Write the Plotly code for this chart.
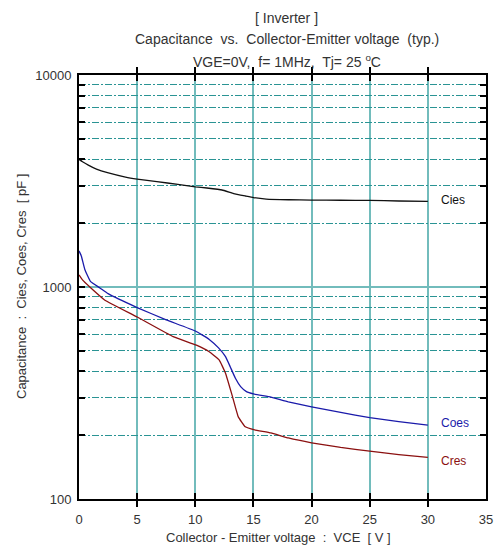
import math
import plotly.graph_objects as go

# ---- data ----
cies_x = [0, 0.3, 0.8, 1.5, 2.45, 4, 5, 6.7, 8.5, 10, 11, 12.3, 13.3, 14.3, 15, 16.1, 18, 20, 22.5, 25, 27.5, 30]
cies_y = [4000, 3900, 3760, 3600, 3460, 3300, 3230, 3140, 3050, 2970, 2930, 2868, 2760, 2687, 2640, 2600, 2580, 2570, 2565, 2560, 2545, 2537]

coes_x = [0, 0.2, 0.5, 1, 1.8, 2.5, 5, 7.5, 10, 11.2, 12, 12.6, 13, 13.45, 13.9, 14.4, 15, 16.5, 18, 20, 22.5, 25, 27.5, 30]
coes_y = [1480, 1400, 1210, 1060, 990, 930, 800, 700, 620, 566, 516, 469, 421, 371, 339, 321, 313, 302, 287, 272, 256, 242, 232, 223]

cres_x = [0, 0.3, 0.93, 2.2, 5, 8.1, 10.1, 11.2, 12.05, 12.6, 13.2, 13.7, 14.3, 15.1, 16.5, 18, 20, 22.5, 25, 27.5, 30]
cres_y = [1140, 1080, 1000, 869, 722, 583, 532, 495, 453, 392, 304, 244, 219, 212, 205, 194, 184, 175, 168, 162, 157]

x_ticks = [0, 5, 10, 15, 20, 25, 30, 35]
y_decades = [100, 1000, 10000]
y_all = sorted(set(y_decades + [m * d for d in (100, 1000) for m in range(2, 10)]))
y_text = [str(v) if v in y_decades else "" for v in y_all]

series = [
    ("Cies", cies_x, cies_y, "#111111", 2560),
    ("Coes", coes_x, coes_y, "#1a1aaa", 228),
    ("Cres", cres_x, cres_y, "#8b1010", 151),
]

FONT = "Liberation Sans, Arial, sans-serif"
TXT = "#333333"
TEAL = "#72bcbc"
TEAL_D = "#2a9494"

fig = go.Figure()
for name, xs, ys, col, ly in series:
    fig.add_trace(go.Scatter(x=xs, y=ys, mode="lines", name=name,
                             line=dict(color=col, width=1.3, shape="spline", smoothing=0.3),
                             showlegend=False, hoverinfo="skip"))
    fig.add_annotation(x=31.0, y=math.log10(ly), xref="x", yref="y",
                       text=name, showarrow=False, xanchor="left", yanchor="middle",
                       font=dict(family=FONT, size=12, color=col))

# helper trace so the overlay axis exists
fig.add_trace(go.Scatter(x=[None], y=[None], yaxis="y2", showlegend=False, hoverinfo="skip"))

fig.update_layout(
    xaxis=dict(range=[0, 35], tickvals=x_ticks, ticktext=[str(v) for v in x_ticks],
               showgrid=True, gridcolor=TEAL, gridwidth=2, zeroline=False,
               ticks="inside", ticklen=6, tickwidth=2, tickcolor="black",
               showline=True, linecolor="black", linewidth=2, mirror="allticks",
               ticklabelstandoff=7,
               tickfont=dict(family=FONT, size=13, color=TXT)),
    yaxis=dict(type="log", range=[2, 4], tickvals=y_all, ticktext=y_text,
               showgrid=True, gridcolor=TEAL_D, gridwidth=1, griddash="7px,2px,2px,2px",
               zeroline=False, ticks="inside", ticklen=6, tickwidth=2, tickcolor="black",
               showline=True, linecolor="black", linewidth=2, mirror="allticks",
               ticklabelstandoff=3,
               tickfont=dict(family=FONT, size=13, color=TXT)),
    yaxis2=dict(type="log", range=[2, 4], overlaying="y", side="left",
                tickvals=[1000], showticklabels=False, ticks="",
                showgrid=True, gridcolor=TEAL, gridwidth=2, zeroline=False, showline=False),
)

titles = [
    ("[ Inverter ]", 1.1344),
    ("Capacitance  vs.  Collector-Emitter voltage  (typ.)", 1.085),
    ("VGE=0V,  f= 1MHz,  Tj= 25 <sup>o</sup>C", 1.034),
]
for t, yy in titles:
    fig.add_annotation(x=0.51, y=yy, xref="paper", yref="paper", text=t, showarrow=False,
                       xanchor="center", yanchor="middle",
                       font=dict(family=FONT, size=14, color=TXT))

fig.add_annotation(x=-0.1425, y=0.5, xref="paper", yref="paper", textangle=-90,
                   text="Capacitance  :  Cies, Coes, Cres  [ pF ]", showarrow=False,
                   xanchor="center", yanchor="middle", font=dict(family=FONT, size=13, color=TXT))
fig.add_annotation(x=0.49, y=-0.091, xref="paper", yref="paper",
                   text="Collector - Emitter voltage  :  VCE  [ V ]", showarrow=False,
                   xanchor="center", yanchor="middle", font=dict(family=FONT, size=13, color=TXT))

fig.update_layout(width=499, height=546, autosize=False,
                  margin=dict(l=79, r=6, t=75, b=47),
                  paper_bgcolor="white", plot_bgcolor="white")

fig.write_html("out.html")
